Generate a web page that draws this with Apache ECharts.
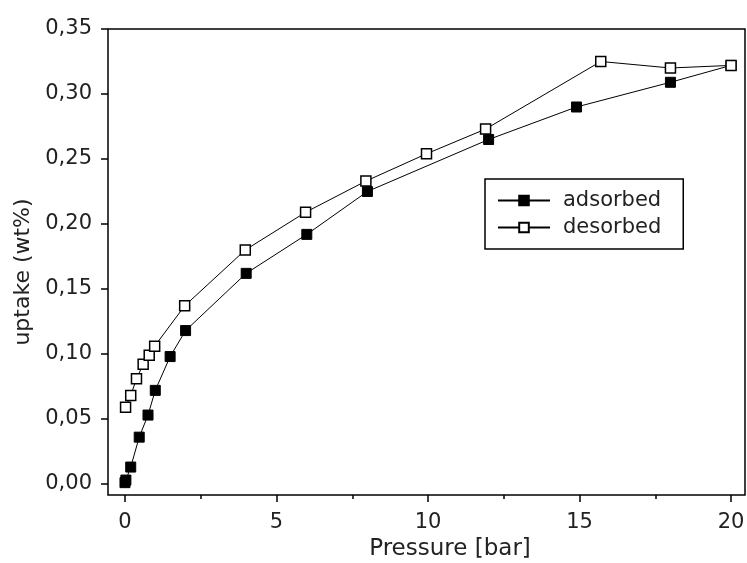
<!DOCTYPE html>
<html>
<head>
<meta charset="utf-8">
<script src="https://cdn.jsdelivr.net/npm/echarts@6/dist/echarts.min.js"></script>
<style>
html, body { margin: 0; padding: 0; background: #fff; }
#chart { width: 747px; height: 563px; }
</style>
</head>
<body>
<div id="chart"></div>
<script>
// values
var adsorbedP = [0, 0.03, 0.19, 0.47, 0.76, 1.0, 1.49, 2.0, 4.0, 6.0, 8.0, 12.0, 14.9, 18.0, 20.0];
var adsorbedU = [0.001, 0.003, 0.013, 0.036, 0.053, 0.072, 0.098, 0.118, 0.162, 0.192, 0.225, 0.265, 0.290, 0.309, 0.322];
var desorbedP = [0.02, 0.19, 0.38, 0.6, 0.8, 0.98, 1.97, 3.97, 5.96, 7.95, 9.95, 11.9, 15.7, 18.0, 20.0];
var desorbedU = [0.059, 0.068, 0.081, 0.092, 0.099, 0.106, 0.137, 0.180, 0.209, 0.233, 0.254, 0.273, 0.325, 0.320, 0.322];

// tick positions
var xTicks = [0, 5, 10, 15, 20];
var xMinorTicks = [2.5, 7.5, 12.5, 17.5];
var yTicks = [0, 0.05, 0.10, 0.15, 0.20, 0.25, 0.30, 0.35];

function pairs(xs, ys) {
    var out = [];
    for (var i = 0; i < xs.length; i++) out.push([xs[i], ys[i]]);
    return out;
}

var font = 'DejaVu Sans';
var txt = '#222';
var tickStyle = {color: '#000', width: 1.5};

var myChart = echarts.init(document.getElementById('chart'));
var option = {
    backgroundColor: '#fff',
    animation: false,
    grid: {
        left: 108, right: 2, top: 29, bottom: 68,
        outerBoundsMode: 'none',
        containLabel: false,
        show: true, borderColor: '#000', borderWidth: 1.5, backgroundColor: 'transparent'
    },
    legend: {
        orient: 'vertical',
        left: 485,
        top: 179,
        padding: [11, 22, 11, 12],
        itemGap: 6,
        itemWidth: 52,
        itemHeight: 12,
        borderColor: '#000',
        borderWidth: 1.5,
        textStyle: {fontFamily: font, fontSize: 21, color: txt, padding: [0, 0, 0, 8]},
        data: ['adsorbed', 'desorbed']
    },
    xAxis: [
        {
            type: 'value',
            position: 'bottom',
            min: -0.56,
            max: 20.46,
            name: 'Pressure [bar]',
            nameLocation: 'middle',
            nameGap: 42,
            nameTextStyle: {fontFamily: font, fontSize: 23, color: txt, padding: [0, 0, 0, 47]},
            axisLine: {show: false, onZero: false},
            axisTick: {show: true, inside: false, length: 7, lineStyle: tickStyle, customValues: xTicks},
            splitLine: {show: false},
            axisLabel: {fontFamily: font, fontSize: 21, color: txt, margin: 17, customValues: xTicks}
        },
        {
            // minor ticks only
            type: 'value',
            position: 'bottom',
            min: -0.56,
            max: 20.46,
            axisLine: {show: false, onZero: false},
            axisTick: {show: true, inside: false, length: 4, lineStyle: tickStyle, customValues: xMinorTicks},
            splitLine: {show: false},
            axisLabel: {show: false}
        }
    ],
    yAxis: {
        type: 'value',
        min: -0.0085,
        max: 0.35,
        name: 'uptake (wt%)',
        nameLocation: 'middle',
        nameGap: 71,
        nameTextStyle: {fontFamily: font, fontSize: 22, color: txt, padding: [0, 20, 0, 0]},
        axisLine: {show: false, onZero: false},
        axisTick: {show: true, inside: false, length: 7, lineStyle: tickStyle, customValues: yTicks},
        splitLine: {show: false},
        axisLabel: {
            fontFamily: font, fontSize: 21, color: txt, margin: 16, customValues: yTicks,
            formatter: function (v) { return v.toFixed(2).replace('.', ','); }
        }
    },
    series: [
        {
            name: 'adsorbed',
            type: 'line',
            xAxisIndex: 0,
            clip: false,
            data: pairs(adsorbedP, adsorbedU),
            symbol: 'rect',
            symbolSize: 10,
            lineStyle: {color: '#000', width: 1},
            itemStyle: {color: '#000', borderColor: '#000', borderWidth: 1}
        },
        {
            name: 'desorbed',
            type: 'line',
            xAxisIndex: 0,
            clip: false,
            z: 3,
            data: pairs(desorbedP, desorbedU),
            symbol: 'rect',
            symbolSize: 10,
            lineStyle: {color: '#000', width: 1},
            itemStyle: {color: '#fff', borderColor: '#000', borderWidth: 1.5}
        }
    ]
};
myChart.setOption(option);
</script>
</body>
</html>
